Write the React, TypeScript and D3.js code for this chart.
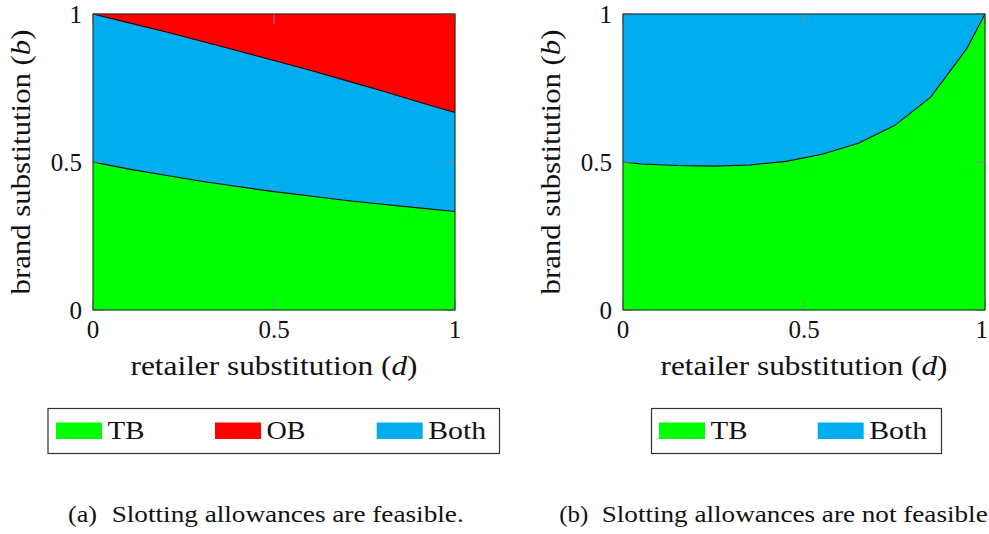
import React from "react";
import * as d3 from "d3";

// ---- data ----
const dLeft = [0, 0.1, 0.2, 0.3, 0.4, 0.5, 0.6, 0.7, 0.8, 0.9, 1];
const bLowerLeft = [0.5, 0.476, 0.455, 0.435, 0.417, 0.4, 0.385, 0.37, 0.357, 0.345, 0.333];
const bUpperLeft = [1, 0.97, 0.94, 0.908, 0.876, 0.843, 0.81, 0.775, 0.74, 0.703, 0.667];

const dRight = [0, 0.05, 0.15, 0.25, 0.35, 0.45, 0.55, 0.65, 0.75, 0.85, 0.95, 1];
const bRight = [0.5, 0.493, 0.488, 0.486, 0.49, 0.502, 0.526, 0.563, 0.623, 0.719, 0.884, 1.0];

const tickValues = [0, 0.5, 1];
const tickLabels = ["0", "0.5", "1"];

const legendLeft = ["TB", "OB", "Both"];
const legendRight = ["TB", "Both"];

const COLORS: Record<string, string> = { TB: "#00FF00", OB: "#FF0000", Both: "#00AEEF" };

const FONT = "'Liberation Serif', 'DejaVu Serif', 'Noto Serif', 'Times New Roman', Times, serif";
const TXT: React.CSSProperties = { fontFamily: FONT };

type PanelProps = {
  x0: number;
  children: (x: d3.ScaleLinear<number, number>, y: d3.ScaleLinear<number, number>) => React.ReactNode;
};

const PLOT_W = 362;
const TOP = 14;
const BOTTOM = 310;
const SVG_W = 989;

function Panel({ x0, children }: PanelProps) {
  const x = d3.scaleLinear().domain([0, 1]).range([x0, x0 + PLOT_W]);
  const y = d3.scaleLinear().domain([0, 1]).range([BOTTOM, TOP]);
  const cx = (x0 + x0 + PLOT_W) / 2;
  return (
    <g>
      {children(x, y)}
      {tickValues.map((t) => (
        <g key={"t" + t} stroke="#8a8a8a" strokeWidth={1}>
          <line x1={x(t)} x2={x(t)} y1={BOTTOM} y2={BOTTOM - 10} />
          <line x1={x(t)} x2={x(t)} y1={TOP} y2={TOP + 10} />
          <line x1={x0} x2={x0 + 10} y1={y(t)} y2={y(t)} />
          <line x1={x0 + PLOT_W} x2={x0 + PLOT_W - 10} y1={y(t)} y2={y(t)} />
        </g>
      ))}
      <rect x={x0} y={TOP} width={PLOT_W} height={BOTTOM - TOP} fill="none" stroke="#222" strokeWidth={1} />
      {tickValues.map((t, i) => {
        const px = x(t);
        const nearEdge = px + 7 > SVG_W;
        return (
          <text
            key={"xl" + t}
            x={nearEdge ? SVG_W - 1 : px}
            y={337.5}
            fontSize={25}
            textAnchor={nearEdge ? "end" : "middle"}
            style={TXT}
            fill="#111"
          >
            {tickLabels[i]}
          </text>
        );
      })}
      {tickValues.map((t, i) => (
        <text key={"yl" + t} x={x0 - 11} y={y(t) + 8.5} fontSize={25} textAnchor="end" style={TXT} fill="#111">
          {tickLabels[i]}
        </text>
      ))}
      <text x={cx} y={375} fontSize={28} textAnchor="middle" style={TXT} fill="#111" textLength={287} lengthAdjust="spacingAndGlyphs">
        retailer substitution (<tspan fontStyle="italic">d</tspan>)
      </text>
      <text
        transform={`translate(${x0 - 63},162) rotate(-90)`}
        fontSize={28}
        textAnchor="middle"
        style={TXT}
        fill="#111"
        textLength={265}
        lengthAdjust="spacingAndGlyphs"
      >
        brand substitution (<tspan fontStyle="italic">b</tspan>)
      </text>
    </g>
  );
}

function Legend({ x0, x1, items, swatchX, textLens }: { x0: number; x1: number; items: string[]; swatchX: number[]; textLens: number[] }) {
  return (
    <g>
      <rect x={x0} y={408.5} width={x1 - x0} height={45} fill="#fff" stroke="#333" strokeWidth={1.2} />
      {items.map((it, i) => (
        <g key={it}>
          <rect x={swatchX[i]} y={422.5} width={46} height={16.5} fill={COLORS[it]} />
          <text
            x={swatchX[i] + 51.5}
            y={439.3}
            fontSize={25}
            style={TXT}
            fill="#111"
            textLength={textLens[i]}
            lengthAdjust="spacingAndGlyphs"
          >
            {it}
          </text>
        </g>
      ))}
    </g>
  );
}

export default function App() {
  const areaCurve = d3.curveLinear;
  return (
    <svg width={989} height={534} style={{ position: "absolute", left: 0, top: 0, background: "#fff" }}>
      <Panel x0={93}>
        {(x, y) => {
          const pts = dLeft.map((d, i) => ({ d, lo: bLowerLeft[i], up: bUpperLeft[i] }));
          const green = d3.area<any>().x((p) => x(p.d)).y0(y(0)).y1((p) => y(p.lo)).curve(areaCurve)(pts) || "";
          const blue = d3.area<any>().x((p) => x(p.d)).y0((p) => y(p.lo)).y1((p) => y(p.up)).curve(areaCurve)(pts) || "";
          const red = d3.area<any>().x((p) => x(p.d)).y0((p) => y(p.up)).y1(y(1)).curve(areaCurve)(pts) || "";
          const lineLo = d3.line<any>().x((p) => x(p.d)).y((p) => y(p.lo)).curve(areaCurve)(pts) || "";
          const lineUp = d3.line<any>().x((p) => x(p.d)).y((p) => y(p.up)).curve(areaCurve)(pts) || "";
          return (
            <g>
              <path d={green} fill={COLORS.TB} stroke={COLORS.TB} strokeWidth={0.5} />
              <path d={blue} fill={COLORS.Both} stroke={COLORS.Both} strokeWidth={0.5} />
              <path d={red} fill={COLORS.OB} stroke={COLORS.OB} strokeWidth={0.5} />
              <path d={lineLo} fill="none" stroke="#111" strokeWidth={1.1} />
              <path d={lineUp} fill="none" stroke="#111" strokeWidth={1.1} />
            </g>
          );
        }}
      </Panel>
      <Panel x0={623}>
        {(x, y) => {
          const pts = dRight.map((d, i) => ({ d, b: bRight[i] }));
          const green = d3.area<any>().x((p) => x(p.d)).y0(y(0)).y1((p) => y(p.b))(pts) || "";
          const blue = d3.area<any>().x((p) => x(p.d)).y0((p) => y(p.b)).y1(y(1))(pts) || "";
          const line = d3.line<any>().x((p) => x(p.d)).y((p) => y(p.b))(pts) || "";
          return (
            <g>
              <path d={green} fill={COLORS.TB} stroke={COLORS.TB} strokeWidth={0.5} />
              <path d={blue} fill={COLORS.Both} stroke={COLORS.Both} strokeWidth={0.5} />
              <path d={line} fill="none" stroke="#111" strokeWidth={1.1} />
            </g>
          );
        }}
      </Panel>
      <Legend x0={48} x1={499.5} items={legendLeft} swatchX={[56, 215, 376.7]} textLens={[37, 39, 58]} />
      <Legend x0={651.5} x1={941.5} items={legendRight} swatchX={[659, 817.7]} textLens={[37, 58]} />
      <text x={68} y={521.7} fontSize={24} style={TXT} fill="#111" textLength={29} lengthAdjust="spacingAndGlyphs">(a)</text>
      <text x={111.7} y={521.7} fontSize={24} style={TXT} fill="#111" textLength={352} lengthAdjust="spacingAndGlyphs">
        Slotting allowances are feasible.
      </text>
      <text x={559.3} y={521.7} fontSize={24} style={TXT} fill="#111" textLength={29} lengthAdjust="spacingAndGlyphs">(b)</text>
      <text x={601.7} y={521.7} fontSize={24} style={TXT} fill="#111" textLength={386} lengthAdjust="spacingAndGlyphs">
        Slotting allowances are not feasible
      </text>
    </svg>
  );
}
